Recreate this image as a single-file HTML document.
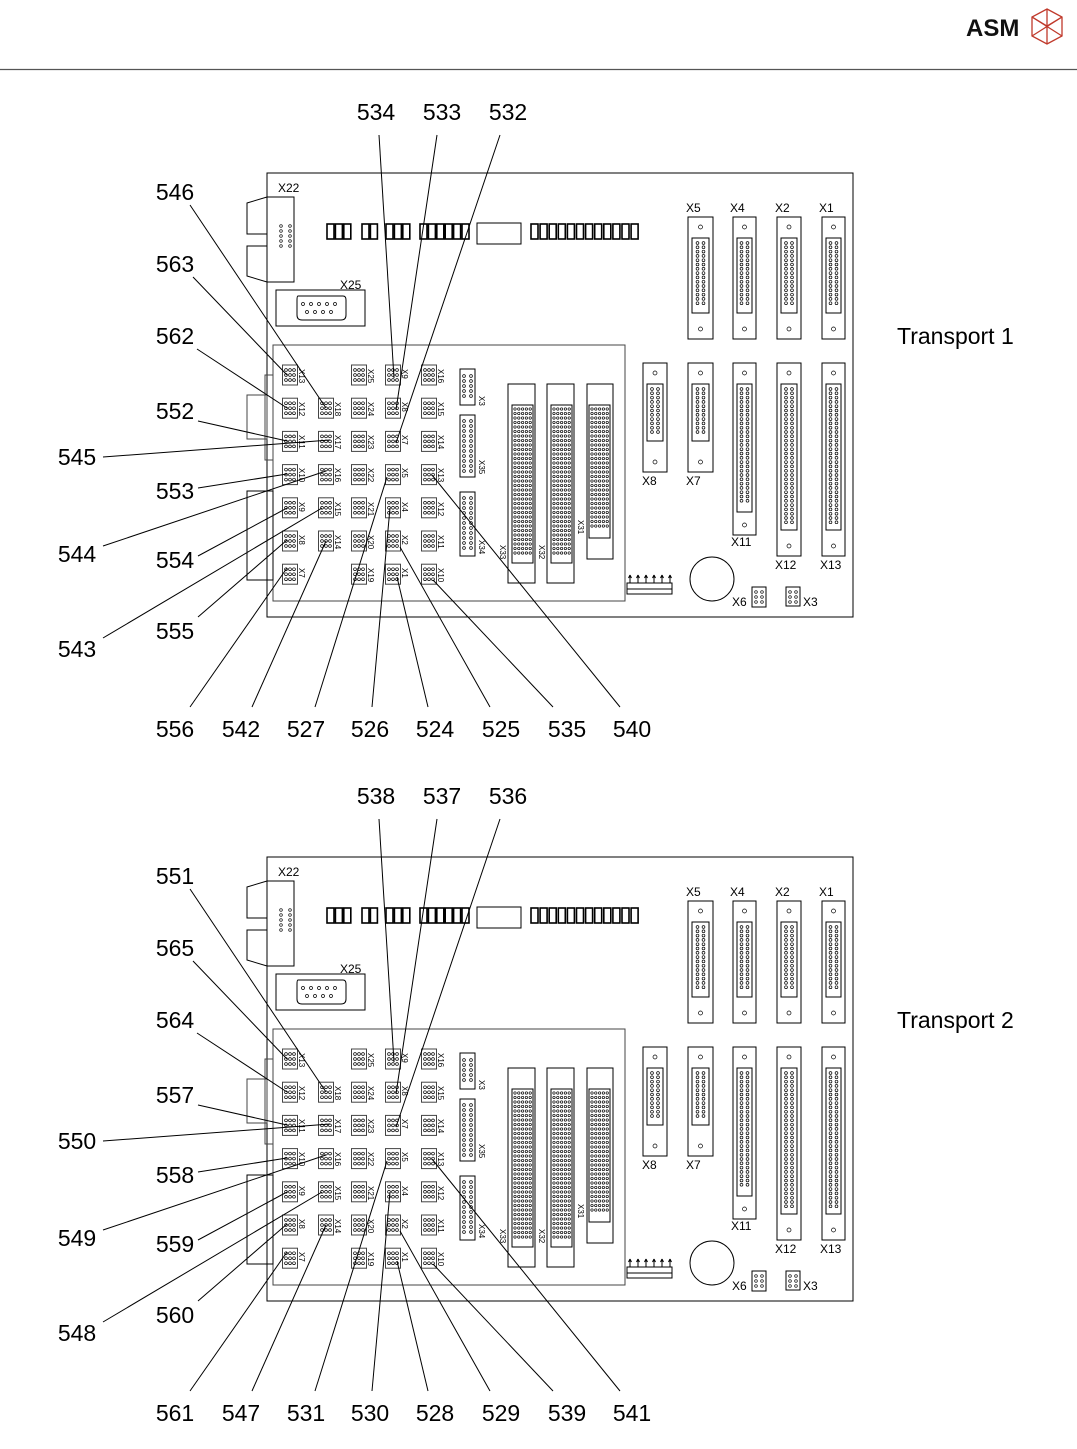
<!DOCTYPE html>
<html><head><meta charset="utf-8"><style>
html,body{margin:0;padding:0;background:#fff;}
svg{display:block;font-family:"Liberation Sans",sans-serif;}
.n{font-size:23px;text-anchor:middle;fill:#000;}
.s{font-size:8px;fill:#000;}
.m{font-size:12px;fill:#000;}
</style></head><body>
<svg id="sv" width="1077" height="1449" viewBox="0 0 1077 1449" xmlns="http://www.w3.org/2000/svg">
<rect width="1077" height="1449" fill="#fff"/>
<line x1="0" y1="69.5" x2="1077" y2="69.5" stroke="#555" stroke-width="1.2"/>
<text x="966" y="36" style="font-size:24px;font-weight:bold;fill:#111">ASM</text>
<g fill="none" stroke="#c0392b" stroke-width="1.3">
<polygon points="1047,9 1062,17 1062,36 1047,44 1032,36 1032,17"/>
<polyline points="1032,17 1047,26 1062,17"/><line x1="1047" y1="9" x2="1047" y2="44"/>
<line x1="1032" y1="36" x2="1062" y2="17"/><line x1="1032" y1="17" x2="1062" y2="36"/>
</g>
<g id="boards" fill="none" stroke="#000" stroke-width="1"></g>

<!-- Board 1 text -->
<g>
<text class="n" x="376" y="120">534</text><text class="n" x="442" y="120">533</text><text class="n" x="508" y="120">532</text>
<text class="n" x="175" y="200">546</text><text class="n" x="175" y="272">563</text><text class="n" x="175" y="344">562</text>
<text class="n" x="175" y="419">552</text><text class="n" x="77" y="465">545</text><text class="n" x="175" y="499">553</text>
<text class="n" x="77" y="562">544</text><text class="n" x="175" y="568">554</text><text class="n" x="77" y="657">543</text>
<text class="n" x="175" y="639">555</text>
<text class="n" x="175" y="737">556</text><text class="n" x="241" y="737">542</text><text class="n" x="306" y="737">527</text>
<text class="n" x="370" y="737">526</text><text class="n" x="435" y="737">524</text><text class="n" x="501" y="737">525</text>
<text class="n" x="567" y="737">535</text><text class="n" x="632" y="737">540</text>
<text x="897" y="344" style="font-size:23px">Transport 1</text>
</g>
<!-- Board 2 text -->
<g transform="translate(0,684)">
<text class="n" x="376" y="120">538</text><text class="n" x="442" y="120">537</text><text class="n" x="508" y="120">536</text>
<text class="n" x="175" y="200">551</text><text class="n" x="175" y="272">565</text><text class="n" x="175" y="344">564</text>
<text class="n" x="175" y="419">557</text><text class="n" x="77" y="465">550</text><text class="n" x="175" y="499">558</text>
<text class="n" x="77" y="562">549</text><text class="n" x="175" y="568">559</text><text class="n" x="77" y="657">548</text>
<text class="n" x="175" y="639">560</text>
<text class="n" x="175" y="737">561</text><text class="n" x="241" y="737">547</text><text class="n" x="306" y="737">531</text>
<text class="n" x="370" y="737">530</text><text class="n" x="435" y="737">528</text><text class="n" x="501" y="737">529</text>
<text class="n" x="567" y="737">539</text><text class="n" x="632" y="737">541</text>
<text x="897" y="344" style="font-size:23px">Transport 2</text>
</g>
<!-- connector labels, both boards -->
<g id="lab1">
<text class="m" x="278" y="192">X22</text><text class="m" x="340" y="289">X25</text>
<text class="m" x="686" y="212">X5</text><text class="m" x="730" y="212">X4</text><text class="m" x="775" y="212">X2</text><text class="m" x="819" y="212">X1</text>
<text class="m" x="642" y="485">X8</text><text class="m" x="686" y="485">X7</text><text class="m" x="731" y="546">X11</text>
<text class="m" x="775" y="569">X12</text><text class="m" x="820" y="569">X13</text>
<text class="m" x="732" y="606">X6</text><text class="m" x="803" y="606">X3</text>
<g class="s">
<text transform="translate(299,369) rotate(90)">X13</text><text transform="translate(299,402) rotate(90)">X12</text><text transform="translate(299,435) rotate(90)">X11</text><text transform="translate(299,468) rotate(90)">X10</text><text transform="translate(299,502) rotate(90)">X9</text><text transform="translate(299,535) rotate(90)">X8</text><text transform="translate(299,568) rotate(90)">X7</text>
<text transform="translate(335,402) rotate(90)">X18</text><text transform="translate(335,435) rotate(90)">X17</text><text transform="translate(335,468) rotate(90)">X16</text><text transform="translate(335,502) rotate(90)">X15</text><text transform="translate(335,535) rotate(90)">X14</text>
<text transform="translate(368,369) rotate(90)">X25</text><text transform="translate(368,402) rotate(90)">X24</text><text transform="translate(368,435) rotate(90)">X23</text><text transform="translate(368,468) rotate(90)">X22</text><text transform="translate(368,502) rotate(90)">X21</text><text transform="translate(368,535) rotate(90)">X20</text><text transform="translate(368,568) rotate(90)">X19</text>
<text transform="translate(402,369) rotate(90)">X9</text><text transform="translate(402,402) rotate(90)">X8</text><text transform="translate(402,435) rotate(90)">X7</text><text transform="translate(402,468) rotate(90)">X5</text><text transform="translate(402,502) rotate(90)">X4</text><text transform="translate(402,535) rotate(90)">X2</text><text transform="translate(402,568) rotate(90)">X1</text>
<text transform="translate(438,369) rotate(90)">X16</text><text transform="translate(438,402) rotate(90)">X15</text><text transform="translate(438,435) rotate(90)">X14</text><text transform="translate(438,468) rotate(90)">X13</text><text transform="translate(438,502) rotate(90)">X12</text><text transform="translate(438,535) rotate(90)">X11</text><text transform="translate(438,568) rotate(90)">X10</text>
<text transform="translate(479,396) rotate(90)">X3</text><text transform="translate(479,460) rotate(90)">X35</text><text transform="translate(479,540) rotate(90)">X34</text>
<text transform="translate(500,545) rotate(90)">X33</text><text transform="translate(539,545) rotate(90)">X32</text><text transform="translate(578,520) rotate(90)">X31</text>
</g></g>
<g transform="translate(0,684)">
<text class="m" x="278" y="192">X22</text><text class="m" x="340" y="289">X25</text>
<text class="m" x="686" y="212">X5</text><text class="m" x="730" y="212">X4</text><text class="m" x="775" y="212">X2</text><text class="m" x="819" y="212">X1</text>
<text class="m" x="642" y="485">X8</text><text class="m" x="686" y="485">X7</text><text class="m" x="731" y="546">X11</text>
<text class="m" x="775" y="569">X12</text><text class="m" x="820" y="569">X13</text>
<text class="m" x="732" y="606">X6</text><text class="m" x="803" y="606">X3</text>
<g class="s">
<text transform="translate(299,369) rotate(90)">X13</text><text transform="translate(299,402) rotate(90)">X12</text><text transform="translate(299,435) rotate(90)">X11</text><text transform="translate(299,468) rotate(90)">X10</text><text transform="translate(299,502) rotate(90)">X9</text><text transform="translate(299,535) rotate(90)">X8</text><text transform="translate(299,568) rotate(90)">X7</text>
<text transform="translate(335,402) rotate(90)">X18</text><text transform="translate(335,435) rotate(90)">X17</text><text transform="translate(335,468) rotate(90)">X16</text><text transform="translate(335,502) rotate(90)">X15</text><text transform="translate(335,535) rotate(90)">X14</text>
<text transform="translate(368,369) rotate(90)">X25</text><text transform="translate(368,402) rotate(90)">X24</text><text transform="translate(368,435) rotate(90)">X23</text><text transform="translate(368,468) rotate(90)">X22</text><text transform="translate(368,502) rotate(90)">X21</text><text transform="translate(368,535) rotate(90)">X20</text><text transform="translate(368,568) rotate(90)">X19</text>
<text transform="translate(402,369) rotate(90)">X9</text><text transform="translate(402,402) rotate(90)">X8</text><text transform="translate(402,435) rotate(90)">X7</text><text transform="translate(402,468) rotate(90)">X5</text><text transform="translate(402,502) rotate(90)">X4</text><text transform="translate(402,535) rotate(90)">X2</text><text transform="translate(402,568) rotate(90)">X1</text>
<text transform="translate(438,369) rotate(90)">X16</text><text transform="translate(438,402) rotate(90)">X15</text><text transform="translate(438,435) rotate(90)">X14</text><text transform="translate(438,468) rotate(90)">X13</text><text transform="translate(438,502) rotate(90)">X12</text><text transform="translate(438,535) rotate(90)">X11</text><text transform="translate(438,568) rotate(90)">X10</text>
<text transform="translate(479,396) rotate(90)">X3</text><text transform="translate(479,460) rotate(90)">X35</text><text transform="translate(479,540) rotate(90)">X34</text>
<text transform="translate(500,545) rotate(90)">X33</text><text transform="translate(539,545) rotate(90)">X32</text><text transform="translate(578,520) rotate(90)">X31</text>
</g></g>
</svg>
<script>
(function(){
var NS="http://www.w3.org/2000/svg",root=document.getElementById("boards"),out=[];
function R(x,y,w,h,ex){out.push('<rect x="'+x+'" y="'+y+'" width="'+w+'" height="'+h+'" '+(ex||'')+'/>');}
function C(x,y,r){out.push('<circle cx="'+x+'" cy="'+y+'" r="'+r+'" stroke-width="0.7"/>');}
function L(a,b,c,d,col){out.push('<line x1="'+a+'" y1="'+b+'" x2="'+c+'" y2="'+d+'"'+(col?' stroke="'+col+'"':'')+'/>');}
function P(p){out.push('<polygon points="'+p+'"/>');}
function pins(x0,y0,cols,rows,dx,dy,r){for(var i=0;i<cols;i++)for(var j=0;j<rows;j++)C(x0+i*dx,y0+j*dy,r);}
function small(x,y){R(x-7.5,y-10,15,20,'stroke="#444"');pins(x-4,y-5,3,3,4,5,1.4);}
function dsub(x1,x2,y1,y2,iy1,iy2){R(x1,y1,x2-x1,y2-y1);R(x1+4,iy1,x2-x1-8,iy2-iy1);C((x1+x2)/2,y1+10,2);C((x1+x2)/2,y2-10,2);
 var cx=(x1+x2)/2,n=Math.floor((iy2-iy1-8)/4.3);for(var k=0;k<n;k++){C(cx-3,iy1+5+k*4.3,1.4);C(cx+3,iy1+5+k*4.3,1.4);}}
function board(o){
 R(267,173+o,586,444);
 P("247,"+(203+o)+" 267,"+(197+o)+" 294,"+(197+o)+" 294,"+(282+o)+" 267,"+(282+o)+" 247,"+(276+o)+" 247,"+(246+o)+" 267,"+(246+o)+" 267,"+(234+o)+" 247,"+(234+o));
 pins(281,226+o,2,5,9,5,1.3);
 R(276,290+o,89,36);
 out.push('<path d="M298,'+(296+o)+' H343 Q346,'+(296+o)+' 346,'+(300+o)+' V'+(315+o)+' Q346,'+(320+o)+' 341,'+(320+o)+' H302 Q297,'+(320+o)+' 297,'+(315+o)+' V'+(300+o)+' Q297,'+(296+o)+' 298,'+(296+o)+'Z"/>');
 pins(303,304+o,5,1,8,0,1.5);pins(307,312+o,4,1,8,0,1.5);
 // text boxes
 var gx=[[327,3],[362,2],[386,3],[420,6],[531,12]];
 gx.forEach(function(g){for(var i=0;i<g[1];i++)R(g[0]+i*(g[0]==531?9.1:8.4),224+o,7,15,'stroke-width="1.6"');});
 R(477,223+o,44,21);
 // inner board
 R(273,345+o,352,256,'stroke="#444"');
 R(265,375+o,8,85,'stroke="#444"');R(247,395+o,20,44,'stroke="#444"');R(247,491+o,26,89);
 var cols=[[290,0,7],[326,1,6],[359,0,7],[393,0,7],[429,0,7]];
 cols.forEach(function(c){for(var r=c[1];r<c[2];r++)small(c[0],375+o+r*33.2);});
 R(460,369+o,15,36);pins(464,376+o,2,5,7,5,1.4);
 R(460,415+o,15,62);pins(464,421+o,2,11,7,5,1.4);
 R(460,492+o,15,64);pins(464,498+o,2,11,7,5,1.4);
 [[508,535,583,512,533,563],[547,574,583,551,572,563],[587,613,559,589,610,538]].forEach(function(b){
  R(b[0],384+o,b[1]-b[0],b[2]-384-o+o);R(b[3],405+o,b[4]-b[3],b[5]-405);
  for(var k=0;k<Math.floor((b[5]-405-8)/4.5);k++){for(var c=0;c<5;c++)C(b[3]+3+c*3.8,409+o+k*4.5,1.2);}
 });
 // header connector
 R(627,583+o,45,6);R(627,589+o,45,5);
 for(var a=0;a<6;a++){var x=630+a*8;L(x,576+o,x,583+o);L(x-1.5,578+o,x,575+o);L(x+1.5,578+o,x,575+o);}
 dsub(688,713,217+o,339+o,238+o,313+o);dsub(733,756,217+o,339+o,238+o,313+o);
 dsub(777,801,217+o,339+o,238+o,313+o);dsub(822,845,217+o,339+o,238+o,313+o);
 dsub(643,667,363+o,472+o,384+o,441+o);dsub(688,713,363+o,472+o,384+o,441+o);
 dsub(733,756,363+o,535+o,384+o,512+o);dsub(777,801,363+o,556+o,384+o,530+o);dsub(822,845,363+o,556+o,384+o,530+o);
 C(712,579+o,22);out[out.length-1]=out[out.length-1].replace('stroke-width="0.7"','');
 R(752,587+o,14,20);pins(756,592+o,2,3,6,5,1.3);R(786,587+o,14,19);pins(790,592+o,2,3,6,5,1.3);
 // leaders
 var ld=[[379,135,394,378],[437,135,396,410],[500,135,396,443],[190,205,326,408],[193,277,287,375],[197,349,287,408],
 [198,421,287,441],[103,457,330,440],[198,488,287,474],[103,546,326,471],[198,556,287,508],[103,638,322,508],
 [198,617,287,540],[190,707,287,568],[252,707,326,541],[315,707,387,477],[372,707,390,508],[428,707,397,577],
 [490,707,400,547],[553,707,433,580],[620,707,432,475]];
 ld.forEach(function(l){L(l[0],l[1]+o,l[2],l[3]+o);});
}
board(0);board(684);
root.innerHTML=out.join("");
})();
</script>
</body></html>
